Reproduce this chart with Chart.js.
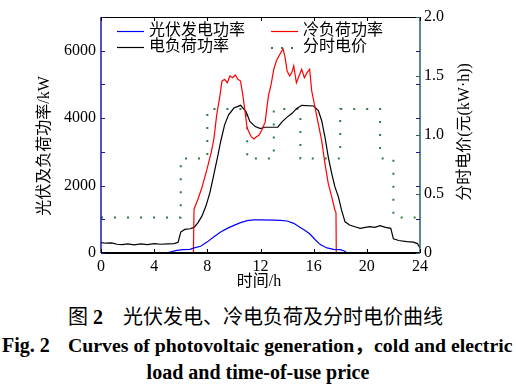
<!DOCTYPE html>
<html>
<head>
<meta charset="utf-8">
<script src="https://cdn.jsdelivr.net/npm/chart.js@4"></script>
<style>
  body { margin: 0; background: #fff; width: 516px; height: 390px; position: relative; overflow: hidden;
         font-family: "Liberation Serif", "Noto Sans CJK SC", serif; color: #000; }
  #wrap { position: absolute; left: 0; top: 0; width: 516px; height: 300px; }
  .cap { position: absolute; white-space: nowrap; font-size: 20px; line-height: 20px; }
  .b { font-weight: bold; }
</style>
</head>
<body>
<div id="wrap"><canvas id="c" width="516" height="300"></canvas></div>
<div class="cap" style="left:68px;top:307px">图 <b>2</b></div>
<div class="cap" style="left:123px;top:307px">光伏发电、冷电负荷及分时电价曲线</div>
<div class="cap b" style="left:2px;top:335px">Fig. 2</div>
<div class="cap b" style="left:68px;top:335px;font-size:19.8px">Curves of photovoltaic generation，cold and electric</div>
<div class="cap b" style="left:0;width:516px;text-align:center;top:362px">load and time-of-use price</div>
<script>
// PV generation (kW)
const hoursPV = [0, 4.8, 5.2, 5.7, 6.2, 6.7, 7.0, 7.5, 8.0, 8.5, 9.0, 9.5, 10.0, 10.5, 11.0, 11.5, 12.0, 13.0, 13.5, 14.0,
  14.5, 14.9, 15.3, 15.7, 16.1, 16.5, 17.0, 17.5, 18.0, 18.3, 18.5, 19.0, 24];
const pvPower = [0, 0, 30, 80, 100, 110, 150, 200, 330, 480, 620, 730, 820, 900, 960, 985, 985, 975, 970, 950,
  880, 780, 680, 570, 400, 250, 150, 110, 100, 60, 10, 0, 0];

// electric load (kW)
const hoursElec = [0, 0.4, 0.8, 1.2, 1.6, 2.0, 2.5, 3.0, 3.5, 4.0, 4.5, 5.0, 5.5, 5.8, 6.0, 6.3, 6.7, 7.0, 7.3, 7.6,
  7.9, 8.2, 8.5, 8.8, 9.0, 9.3, 9.6, 10.0, 10.5, 10.9, 11.2, 11.6, 12.0, 12.3, 13.3, 13.6, 14.0, 14.4, 14.7, 15.1,
  16.0, 16.35, 16.6, 16.85, 17.1, 17.36, 17.6, 17.86, 18.1, 18.36, 18.7, 19.1, 19.5, 20.2, 20.6, 21.0, 21.4, 21.8, 22.0, 22.4,
  23.0, 23.5, 23.8, 24];
const elecLoad = [310, 290, 300, 260, 250, 270, 240, 270, 250, 280, 260, 270, 280, 320, 620, 700, 720, 760, 900, 1100,
  1400, 1800, 2350, 2900, 3300, 3800, 4100, 4300, 4380, 4200, 3900, 3750, 3690, 3730, 3730, 3880, 4030, 4150, 4280, 4380,
  4360, 4225, 3930, 3440, 2845, 2355, 1960, 1665, 1270, 925, 830, 780, 730, 780, 760, 810, 760, 730, 420, 370,
  340, 320, 280, 150];

// cooling load (kW)
const hoursCold = [0, 6.95, 7.0, 7.3, 7.6, 7.95, 8.3, 8.5, 8.7, 8.95, 9.1, 9.3, 9.5, 9.7, 9.9, 10.1, 10.3, 10.5, 10.7, 11.0,
  11.3, 11.5, 11.7, 11.9, 12.1, 12.35, 12.5, 12.6, 12.8, 13.0, 13.2, 13.4, 13.6, 13.7, 13.85, 14.0, 14.2, 14.4, 14.5, 14.7,
  14.9, 15.1, 15.3, 15.5, 15.7, 15.85, 16.1, 16.35, 16.6, 16.85, 17.1, 17.36, 17.6, 17.68, 17.7, 24];
const coldLoad = [0, 0, 1300, 1600, 1950, 2450, 2990, 3400, 4080, 4670, 5100, 5150, 5050, 5250, 5200, 5280, 5150, 5100, 4600, 3700,
  3450, 3380, 3450, 3500, 3650, 3880, 4370, 4670, 5000, 5450, 5700, 5850, 6000, 6050, 5800, 5400, 5250, 5400, 5550, 5050,
  5250, 5450, 5200, 5350, 5450, 4815, 4320, 3830, 3340, 2650, 2060, 1665, 1270, 1200, 0, 0];

// time-of-use price (yuan/kWh), value holds from each hour until the next
const priceHours = [0, 6, 8, 11, 13, 15, 18, 21, 22, 24];
const priceLevels = [0.3, 0.8, 1.22, 0.8, 1.22, 0.8, 1.22, 0.8, 0.3, 0.3];

const xTicks = [0, 4, 8, 12, 16, 20, 24];

const pts = (xs, ys) => xs.map((x, i) => ({ x: x, y: ys[i] }));

const serif = '"Liberation Serif", "Noto Sans CJK SC", serif';
const navy = '#1a1aa0';
const teal = '#2a6060';
const green = '#2e7a45';

const decor = {
  id: 'decor',
  afterDraw(chart) {
    const { ctx, chartArea: a, scales } = chart;
    const y = scales.y, y1 = scales.y1, x = scales.x;
    ctx.save();
    ctx.lineWidth = 1;
    // frame
    ctx.strokeStyle = '#000';
    ctx.beginPath();
    ctx.moveTo(a.left, a.top + 0.5); ctx.lineTo(a.right, a.top + 0.5);
    ctx.stroke();
    ctx.lineWidth = 2;
    ctx.beginPath();
    ctx.moveTo(a.left, a.bottom); ctx.lineTo(a.right, a.bottom);
    ctx.stroke();
    ctx.lineWidth = 1.5;
    ctx.strokeStyle = navy;
    ctx.beginPath(); ctx.moveTo(a.left, a.top); ctx.lineTo(a.left, a.bottom); ctx.stroke();
    ctx.strokeStyle = teal;
    ctx.beginPath(); ctx.moveTo(a.right, a.top); ctx.lineTo(a.right, a.bottom); ctx.stroke();

    // inward ticks
    ctx.lineWidth = 1;
    ctx.strokeStyle = navy;
    for (let v = 0; v <= 7000; v += 1000) {
      const py = Math.round(y.getPixelForValue(v)) + 0.5;
      ctx.beginPath();
      ctx.moveTo(a.left, py); ctx.lineTo(a.left + 4, py);
      ctx.moveTo(a.right - 4, py); ctx.lineTo(a.right, py);
      ctx.stroke();
    }
    ctx.strokeStyle = teal;
    for (let v = 0; v <= 2; v += 0.5) {
      const py = Math.round(y1.getPixelForValue(v)) + 0.5;
      ctx.beginPath(); ctx.moveTo(a.right - 4, py); ctx.lineTo(a.right, py); ctx.stroke();
    }
    ctx.strokeStyle = '#000';
    xTicks.forEach(h => {
      const px = Math.round(x.getPixelForValue(h)) + 0.5;
      ctx.beginPath();
      ctx.moveTo(px, a.bottom); ctx.lineTo(px, a.bottom - 4);
      ctx.moveTo(px, a.top); ctx.lineTo(px, a.top + 4);
      ctx.stroke();
    });

    // legend
    ctx.font = '16px ' + serif;
    ctx.fillStyle = '#000';
    ctx.textBaseline = 'middle';
    ctx.textAlign = 'left';
    const rows = [
      { c: '#0000ff', t: '光伏发电功率', x: 117, y: 31 },
      { c: '#ff0000', t: '冷负荷功率', x: 271, y: 31 },
      { c: '#000000', t: '电负荷功率', x: 117, y: 47 },
      { c: green, t: '分时电价', x: 271, y: 47, dot: true }
    ];
    rows.forEach(r => {
      if (r.dot) {
        ctx.fillStyle = r.c;
        [0, 10, 20].forEach(d => ctx.fillRect(r.x + d, r.y, 2, 2));
        ctx.fillStyle = '#000';
      } else {
        ctx.strokeStyle = r.c;
        ctx.lineWidth = 1.2;
        ctx.beginPath(); ctx.moveTo(r.x, r.y + 0.5); ctx.lineTo(r.x + 27, r.y + 0.5); ctx.stroke();
      }
      ctx.fillText(r.t, r.x + 32, r.y);
    });

    // axis titles
    ctx.textAlign = 'center';
    ctx.fillText('时间/h', 259, 282);
    ctx.save();
    ctx.translate(45, 146);
    ctx.rotate(-Math.PI / 2);
    ctx.fillText('光伏及负荷功率/kW', 0, 0);
    ctx.restore();
    ctx.save();
    ctx.translate(465, 132);
    ctx.rotate(-Math.PI / 2);
    ctx.fillText('分时电价(元(kW·h))', 0, 0);
    ctx.restore();
    ctx.restore();
  }
};

function draw() {
  new Chart(document.getElementById('c'), {
    type: 'line',
    data: {
      datasets: [
        { data: pts(hoursPV, pvPower), borderColor: '#0000ff', yAxisID: 'y' },
        { data: pts(hoursCold, coldLoad), borderColor: '#ff0000', yAxisID: 'y' },
        { data: pts(hoursElec, elecLoad), borderColor: '#000000', yAxisID: 'y' },
        { data: pts(priceHours, priceLevels), borderColor: green, yAxisID: 'y1',
          stepped: 'before', borderDash: [2, 11], borderWidth: 2 }
      ]
    },
    options: {
      responsive: false,
      animation: false,
      devicePixelRatio: 1,
      layout: { padding: { top: 17, left: 0, right: 0, bottom: 0 } },
      elements: {
        point: { radius: 0 },
        line: { borderWidth: 1.2, tension: 0, fill: false }
      },
      plugins: { legend: { display: false }, tooltip: { enabled: false } },
      scales: {
        x: {
          type: 'linear', min: 0, max: 24,
          afterBuildTicks: s => { s.ticks = xTicks.map(v => ({ value: v })); },
          afterFit: s => { s.height = 47; },
          grid: { display: false, drawTicks: false },
          border: { display: false },
          ticks: { color: '#000', padding: 4, maxRotation: 0, font: { family: serif, size: 16 } }
        },
        y: {
          position: 'left', min: 0, max: 7000,
          afterFit: s => { s.width = 101; },
          grid: { display: false, drawTicks: false },
          border: { display: false },
          ticks: { stepSize: 1000, color: '#000', padding: 5, font: { family: serif, size: 16 },
            callback: v => (v % 2000 === 0 ? String(v) : '') }
        },
        y1: {
          position: 'right', min: 0, max: 2,
          afterFit: s => { s.width = 96; },
          grid: { display: false, drawTicks: false },
          border: { display: false },
          ticks: { stepSize: 0.5, color: '#000', padding: 4, font: { family: serif, size: 16 } }
        }
      }
    },
    plugins: [decor]
  });
}

Promise.all([
  document.fonts.load('16px "Liberation Serif"'),
  document.fonts.load('16px "Noto Sans CJK SC"')
]).then(draw, draw);
</script>
</body>
</html>
